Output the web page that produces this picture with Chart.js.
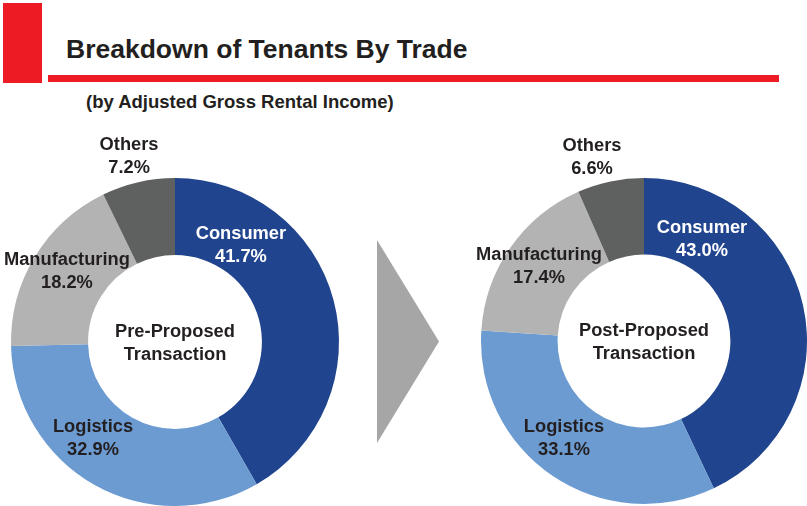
<!DOCTYPE html>
<html>
<head>
<meta charset="utf-8">
<script src="https://cdn.jsdelivr.net/npm/chart.js@4.4.0/dist/chart.umd.min.js"></script>
<style>
  html, body { margin: 0; padding: 0; background: #ffffff; }
  #wrap { position: relative; width: 807px; height: 506px; overflow: hidden; background: #fff;
          font-family: "Liberation Sans", Arial, Helvetica, sans-serif; color: #231f20; }
  .abs { position: absolute; }
  #redBlock { left: 3px; top: 3px; width: 39px; height: 80px; background: #ed1c24; }
  #redLine { left: 48px; top: 75px; width: 731px; height: 7px; background: #ed1c24; }
  #title { left: 66px; top: 36px; font-size: 26.5px; line-height: 26px; font-weight: bold; white-space: nowrap; letter-spacing: 0px; }
  #subtitle { left: 86px; top: 93px; font-size: 18.5px; line-height: 18px; font-weight: bold; white-space: nowrap; }
  #arrow { left: 377px; top: 240px; width: 62px; height: 203px; background: #a6a6a6;
           clip-path: polygon(0 0, 100% 50%, 0 100%); }
  #c1 { left: 0px; top: 110px; }
  #c2 { left: 400px; top: 110px; }
</style>
</head>
<body>
<div id="wrap">
  <div id="redBlock" class="abs"></div>
  <div id="redLine" class="abs"></div>
  <div id="title" class="abs">Breakdown of Tenants By Trade</div>
  <div id="subtitle" class="abs">(by Adjusted Gross Rental Income)</div>
  <div id="arrow" class="abs"></div>
  <canvas id="c1" class="abs" width="390" height="396"></canvas>
  <canvas id="c2" class="abs" width="407" height="396"></canvas>
</div>
<script>
// ---- Data ----
const categories = ["Consumer", "Logistics", "Manufacturing", "Others"];
const preValues = [41.7, 32.9, 18.2, 7.2];
const postValues = [43.0, 33.1, 17.4, 6.6];
const centerPre = ["Pre-Proposed", "Transaction"];
const centerPost = ["Post-Proposed", "Transaction"];

// ---- Styles ----
const sliceColors = ["#21448e", "#6c9bd2", "#b2b3b2", "#5f6160"];
const labelColors = ["#ffffff", "#231f20", "#231f20", "#231f20"];
const FONT = '"Liberation Sans", Arial, Helvetica, sans-serif';

// label offsets relative to doughnut centre, in units of outer radius
const preLabelPos = [[0.402, -0.598], [-0.50, 0.579], [-0.659, -0.439], [-0.280, -1.140]];
const postLabelPos = [[0.356, -0.632], [-0.491, 0.589], [-0.644, -0.466], [-0.319, -1.135]];

const labelPlugin = {
  id: 'sliceLabels',
  afterDatasetsDraw(chart, args, opts) {
    const ctx = chart.ctx;
    const meta = chart.getDatasetMeta(0);
    const arc0 = meta.data[0];
    const cx = arc0.x, cy = arc0.y, R = arc0.outerRadius;
    const vals = chart.data.datasets[0].data;
    ctx.save();
    ctx.textAlign = 'center';
    ctx.textBaseline = 'middle';
    ctx.font = 'bold 18.3px ' + FONT;
    chart.data.labels.forEach((lab, i) => {
      const p = opts.pos[i];
      const x = cx + p[0] * R, y = cy + p[1] * R + 1.5;
      ctx.fillStyle = labelColors[i];
      ctx.fillText(lab, x, y - 11.5);
      ctx.fillText(vals[i].toFixed(1) + '%', x, y + 11.5);
    });
    ctx.fillStyle = '#231f20';
    ctx.fillText(opts.center[0], cx, cy - 10.5);
    ctx.fillText(opts.center[1], cx, cy + 12.5);
    ctx.restore();
  }
};

function makeChart(id, values, padding, pos, center) {
  return new Chart(document.getElementById(id), {
    type: 'doughnut',
    data: {
      labels: categories,
      datasets: [{ data: values, backgroundColor: sliceColors, borderWidth: 0, hoverOffset: 0 }]
    },
    options: {
      responsive: false,
      animation: false,
      cutout: '53%',
      layout: { padding: padding },
      plugins: {
        legend: { display: false },
        tooltip: { enabled: false },
        sliceLabels: { pos: pos, center: center }
      }
    },
    plugins: [labelPlugin]
  });
}

makeChart('c1', preValues, { left: 11, right: 51, top: 68, bottom: 0 }, preLabelPos, centerPre);
makeChart('c2', postValues, { left: 81, right: 0, top: 68, bottom: 2 }, postLabelPos, centerPost);
</script>
</body>
</html>
